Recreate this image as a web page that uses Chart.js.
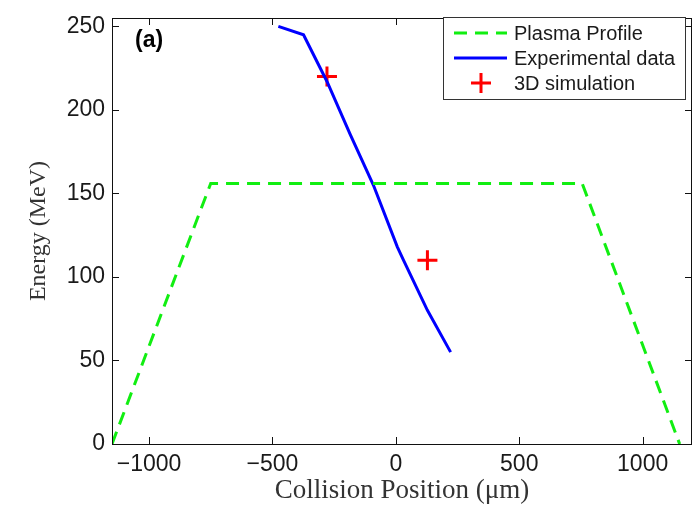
<!DOCTYPE html>
<html>
<head>
<meta charset="utf-8">
<script src="https://cdn.jsdelivr.net/npm/chart.js@4"></script>
<style>
  html, body { margin: 0; padding: 0; background: #fff; }
  canvas { display: block; }
</style>
</head>
<body>
<canvas id="energyChart" width="695" height="507"></canvas>
<script>
// --- data ---
const plasmaX = [-1150, -750, 755, 1150];
const plasmaY = [0, 156, 156, 0];

const expX = [-476, -374, -279, -184, -91, 6, 31, 128, 222];
const expY = [250, 245, 217, 185, 155, 118, 110, 80, 55];

const simX = [-279, 128];
const simY = [220, 110];

const xTicks = [-1000, -500, 0, 500, 1000];
const yTicks = [0, 50, 100, 150, 200, 250];

const toPts = (xs, ys) => xs.map((v, i) => ({ x: v, y: ys[i] }));

// matlab style box, inward ticks, panel label and legend inside the axes
const matlabBox = {
  id: 'matlabBox',
  afterDraw(chart) {
    const { ctx, chartArea: a, scales } = chart;
    const x = scales.x, y = scales.y;
    ctx.save();
    ctx.strokeStyle = '#111';
    ctx.lineWidth = 1;
    ctx.strokeRect(a.left + 0.5, a.top + 0.5, a.right - a.left - 1, a.bottom - a.top);
    ctx.beginPath();
    xTicks.forEach(v => {
      const px = Math.round(x.getPixelForValue(v)) + 0.5;
      ctx.moveTo(px, a.bottom); ctx.lineTo(px, a.bottom - 7);
      ctx.moveTo(px, a.top); ctx.lineTo(px, a.top + 7);
    });
    yTicks.forEach(v => {
      const py = Math.round(y.getPixelForValue(v)) + 0.5;
      ctx.moveTo(a.left, py); ctx.lineTo(a.left + 7, py);
      ctx.moveTo(a.right, py); ctx.lineTo(a.right - 7, py);
    });
    ctx.stroke();

    // (a)
    ctx.fillStyle = '#000';
    ctx.font = 'bold 23px "Liberation Sans", Arial, sans-serif';
    ctx.textBaseline = 'middle';
    ctx.textAlign = 'left';
    ctx.fillText('(a)', a.left + 23, a.top + 23);

    // legend
    const lx = 443, ly = 17, lw = 242, lh = 82;
    ctx.fillStyle = '#fff';
    ctx.fillRect(lx, ly, lw, lh);
    ctx.strokeStyle = '#333';
    ctx.strokeRect(lx + 0.5, ly + 0.5, lw, lh);
    chart.data.datasets.forEach((ds, i) => {
      const cy = ly + 16 + i * 25;
      ctx.strokeStyle = ds.borderColor;
      ctx.lineWidth = 3;
      ctx.setLineDash(ds.borderDash || []);
      ctx.beginPath();
      if (ds.showLine) {
        ctx.moveTo(lx + 11, cy); ctx.lineTo(lx + 64, cy);
      } else {
        ctx.moveTo(lx + 28, cy); ctx.lineTo(lx + 48, cy);
        ctx.moveTo(lx + 38, cy - 10); ctx.lineTo(lx + 38, cy + 10);
      }
      ctx.stroke();
      ctx.setLineDash([]);
      ctx.fillStyle = '#1a1a1a';
      ctx.font = '20px "Liberation Sans", Arial, sans-serif';
      ctx.fillText(ds.label, lx + 71, cy + 1);
    });
    ctx.restore();
  }
};

const ctx = document.getElementById('energyChart').getContext('2d');
new Chart(ctx, {
  type: 'scatter',
  data: {
    datasets: [
      {
        label: 'Plasma Profile',
        data: toPts(plasmaX, plasmaY),
        showLine: true,
        borderColor: '#11ee11',
        borderWidth: 3,
        borderDash: [13, 8],
        pointRadius: 0
      },
      {
        label: 'Experimental data',
        data: toPts(expX, expY),
        showLine: true,
        borderColor: '#0000ff',
        borderWidth: 3,
        pointRadius: 0
      },
      {
        label: '3D simulation',
        data: toPts(simX, simY),
        showLine: false,
        borderColor: '#ff0000',
        pointStyle: 'cross',
        pointRadius: 10,
        pointBorderWidth: 3,
        pointBorderColor: '#ff0000'
      }
    ]
  },
  options: {
    responsive: false,
    animation: false,
    devicePixelRatio: 1,
    layout: { autoPadding: false, padding: { top: 18, right: 3, left: 0, bottom: 0 } },
    plugins: { legend: { display: false }, tooltip: { enabled: false } },
    scales: {
      x: {
        type: 'linear',
        min: -1150,
        max: 1200,
        grid: { display: false, drawTicks: false },
        border: { display: false },
        afterFit: s => { s.height = 63; s.paddingLeft = 0; s.paddingRight = 0; },
        afterBuildTicks: s => { s.ticks = xTicks.map(v => ({ value: v })); },
        ticks: {
          color: '#1a1a1a',
          padding: 7,
          maxRotation: 0,
          font: { family: '"Liberation Sans", Arial, sans-serif', size: 23 },
          callback: v => String(v).replace('-', '\u2212')
        },
        title: {
          display: true,
          text: 'Collision Position (\u03bcm)',
          color: '#333',
          padding: { top: 0, bottom: 0 },
          font: { family: '"Liberation Serif", "DejaVu Serif", serif', size: 27 }
        }
      },
      y: {
        type: 'linear',
        min: 0,
        max: 255,
        grid: { display: false, drawTicks: false },
        border: { display: false },
        afterFit: s => { s.width = 112; s.paddingTop = 0; s.paddingBottom = 0; },
        afterBuildTicks: s => { s.ticks = yTicks.map(v => ({ value: v })); },
        ticks: {
          color: '#1a1a1a',
          padding: 7,
          font: { family: '"Liberation Sans", Arial, sans-serif', size: 23 }
        },
        title: {
          display: true,
          text: 'Energy (MeV)',
          color: '#333',
          padding: { top: 24, bottom: 0 },
          font: { family: '"Liberation Serif", "DejaVu Serif", serif', size: 24 }
        }
      }
    }
  },
  plugins: [matlabBox]
});
</script>
</body>
</html>
